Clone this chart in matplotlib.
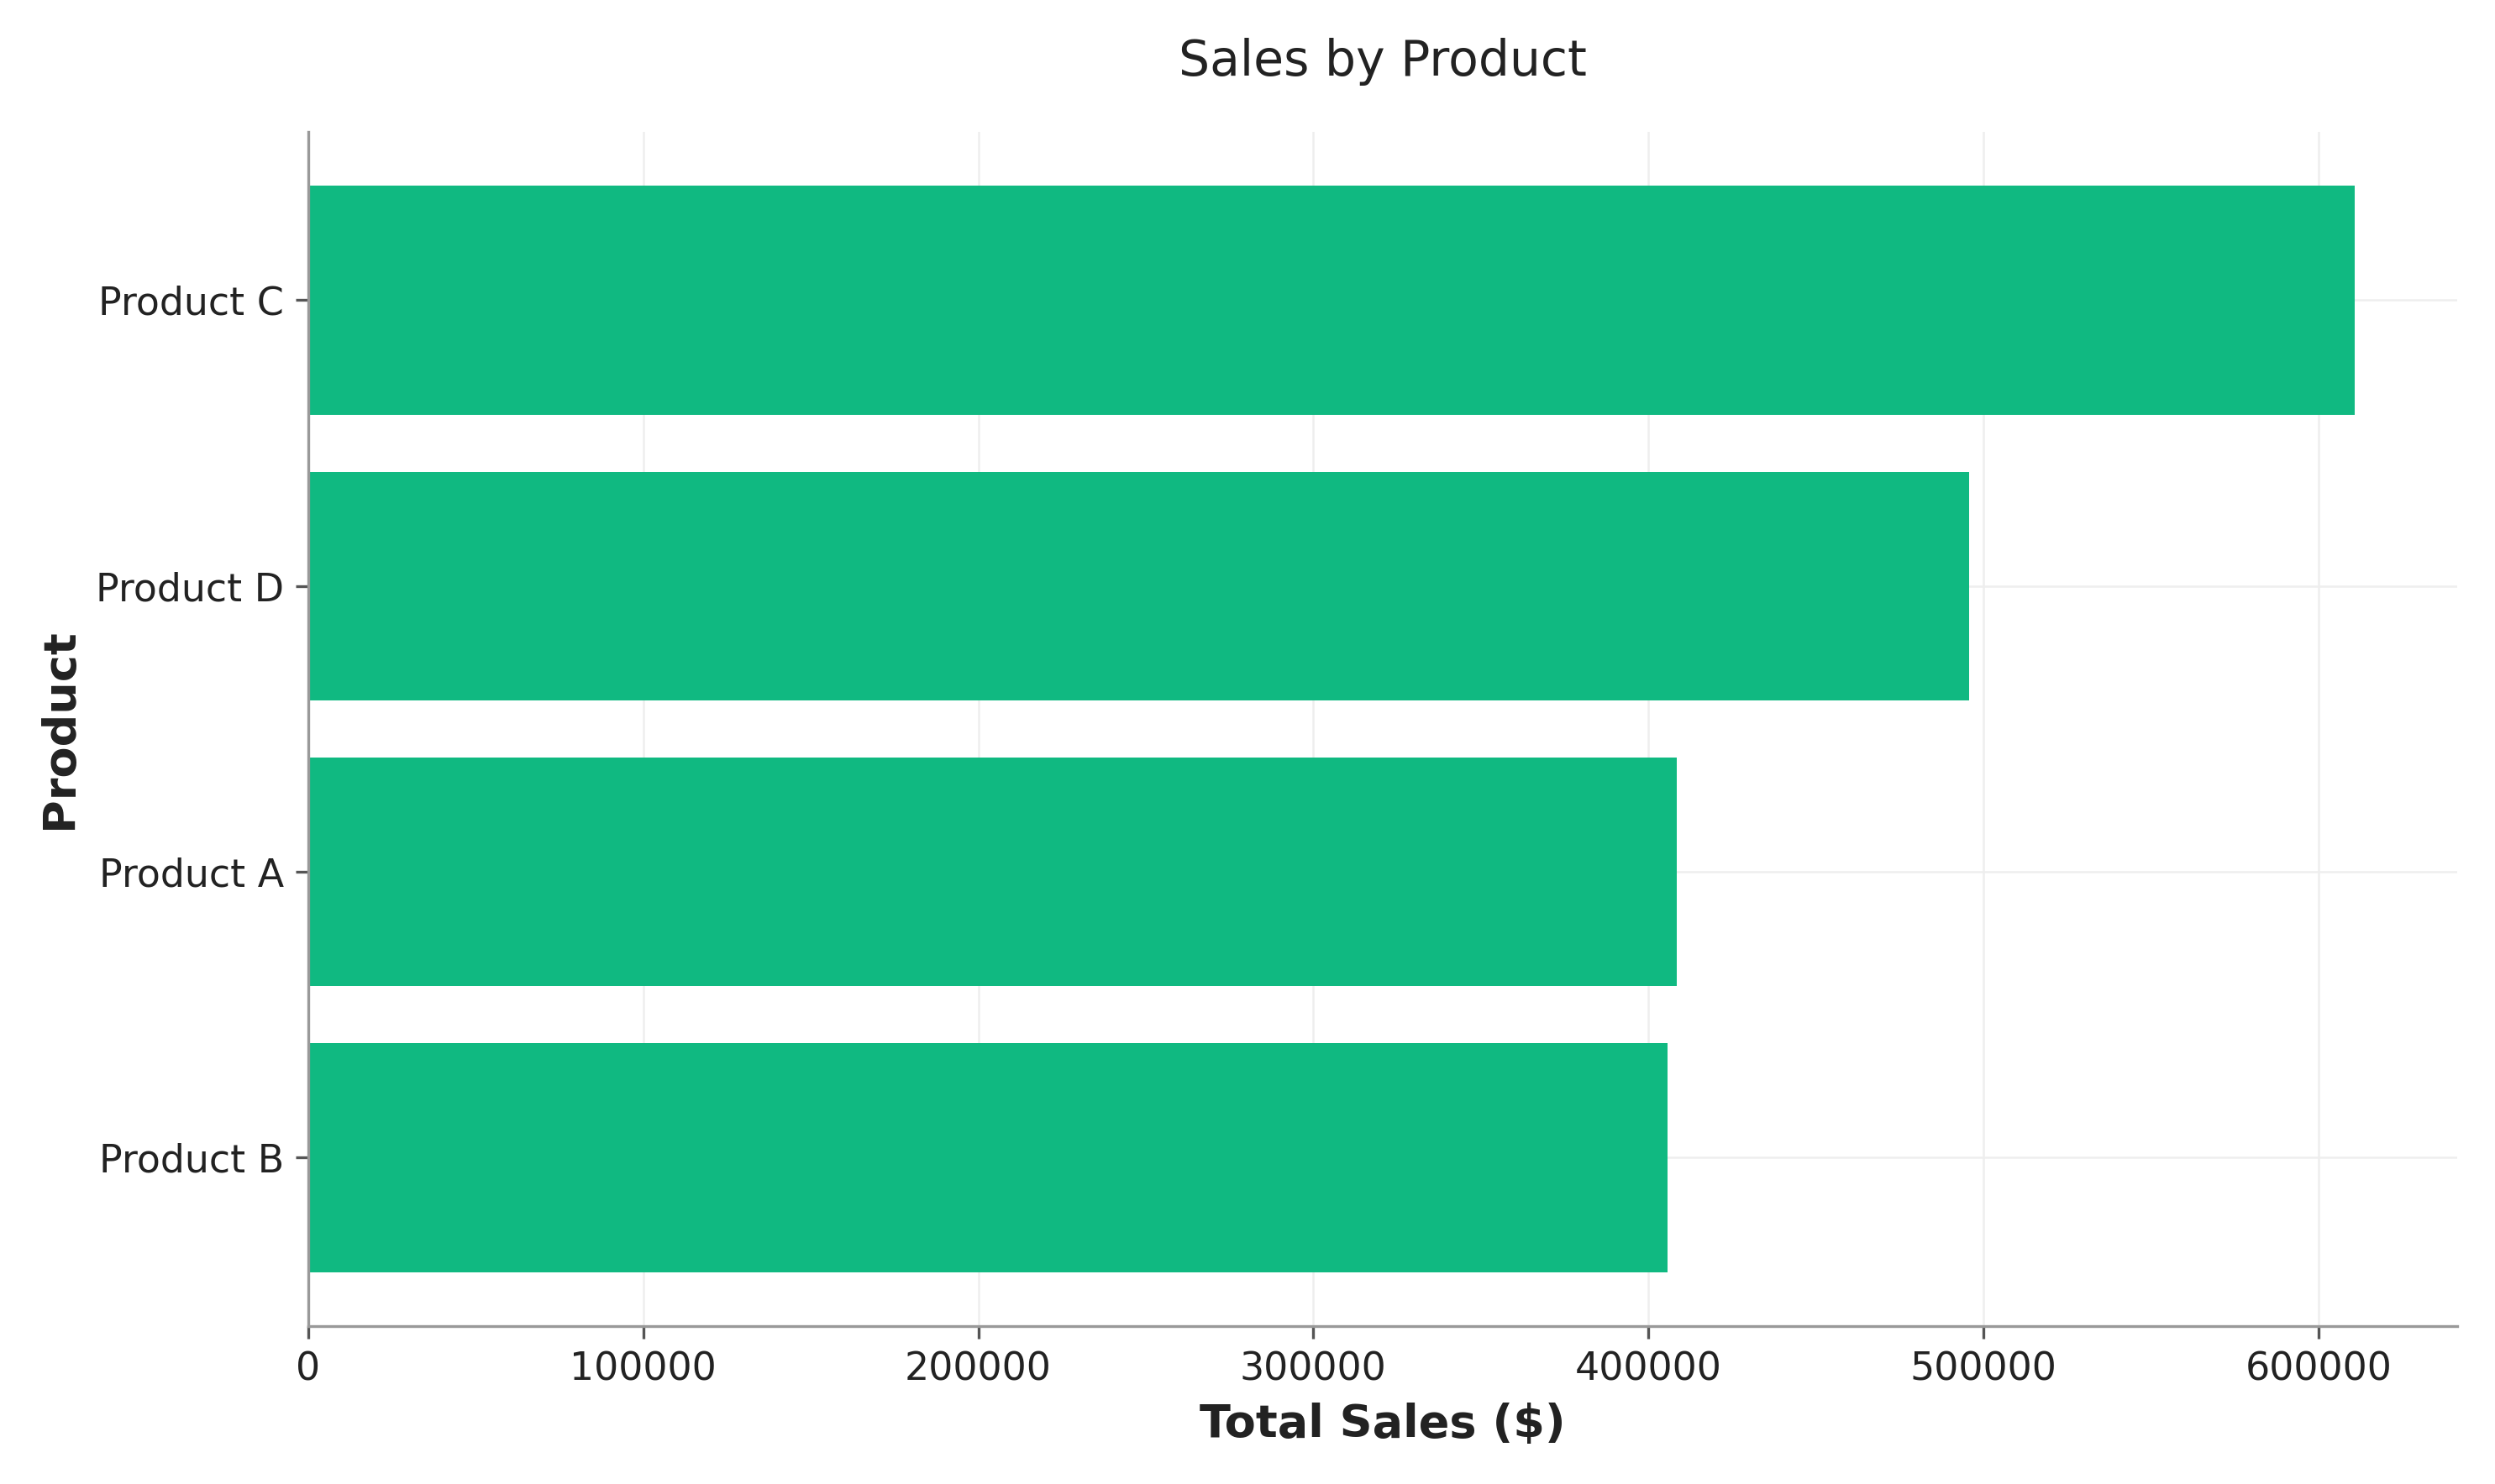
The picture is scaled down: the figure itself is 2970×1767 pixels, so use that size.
import matplotlib.pyplot as plt

products = ["Product B", "Product A", "Product D", "Product C"]
sales = [405700, 408500, 495700, 610900]

fig, ax = plt.subplots(figsize=(9.9, 5.89), dpi=300)
ax.barh(products, sales, color="#10B981", height=0.8, zorder=2)
ax.set_title("Sales by Product", fontsize=14, color="#222222", pad=16)
ax.set_xlabel("Total Sales ($)", fontsize=13, fontweight="bold", color="#222222")
ax.set_ylabel("Product", fontsize=13, fontweight="bold", color="#222222")
ax.grid(True, color="#eeeeee", linewidth=0.6, zorder=0)
for s in ["top", "right"]:
    ax.spines[s].set_visible(False)
for s in ["left", "bottom"]:
    ax.spines[s].set_color("#999999")
ax.tick_params(labelsize=11, colors="#222222")
ax.tick_params(colors="#555555", labelcolor="#222222")
fig.tight_layout()
fig.savefig("out.png")
